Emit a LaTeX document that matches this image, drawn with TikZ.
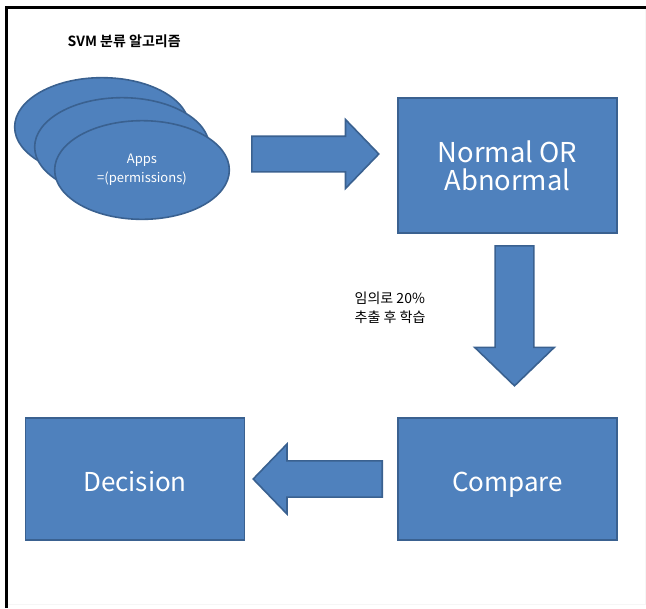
\documentclass[tikz,border=0pt]{standalone}
\usepackage{fontspec}
\setmainfont{Noto Sans CJK KR}[BoldFont={Noto Sans CJK KR Bold}]
\usetikzlibrary{shapes.geometric,shapes.arrows}
\definecolor{boxblue}{HTML}{4F81BD}
\definecolor{boxline}{HTML}{3A6190}

\begin{document}
\begin{tikzpicture}[
    x=0.75pt, y=-0.75pt,
    box/.style={draw=boxline,fill=boxblue,line width=1.2pt,text=white,
                minimum width=164pt,minimum height=91.5pt,inner sep=0pt,
                align=center,font=\fontsize{19.5}{19.5}\selectfont},
    app/.style={ellipse,draw=boxline,fill=boxblue,line width=1.2pt,
                minimum width=131pt,minimum height=74pt,inner sep=0pt},
    fatarrow/.style={single arrow,draw=boxline,fill=boxblue,line width=1.2pt,
                inner xsep=0pt,inner ysep=12.75pt,single arrow head extend=12.5pt,
                single arrow tip angle=92,anchor=tail},
  ]
  \useasboundingbox (0,0) rectangle (646,608);

  % --- frame ---
  \draw[gray!7,line width=0.75pt] (8,604) -- (645,604) -- (645,9);
  \draw[line width=2.25pt] (6.5,608) -- (6.5,7) -- (646,7);

  % --- title ---
  \node[anchor=west,font=\bfseries\fontsize{10.5}{12}\selectfont] (title) at (63,41) {SVM 분류 알고리즘};

  % --- apps (stacked) ---
  \node[app] (app3) at (102,127) {};
  \node[app] (app2) at (122,147) {};
  \node[app,text=white,align=center,font=\fontsize{9.75}{14}\selectfont] (app1) at (142,170) {Apps\\=(permissions)};

  % --- boxes ---
  \node[box,minimum height=101.25pt,font=\fontsize{20.5}{21}\selectfont] (label) at (507.5,165.5) {Normal OR\\Abnormal};
  \node[box,text height=19pt,text depth=0pt] (compare)  at (507.5,479) {Compare};
  \node[box,text height=19pt,text depth=0pt] (decision) at (135,479)   {Decision};

  % --- block arrows ---
  \node[fatarrow,minimum height=95.25pt,minimum width=49.5pt] (toLabel) at (251,154) {};
  \node[fatarrow,minimum height=105pt,minimum width=58.5pt,inner ysep=13.9pt,
        single arrow head extend=15.4pt,rotate=-90] (toCompare) at (514.5,245) {};
  \node[fatarrow,minimum height=96.75pt,minimum width=52.5pt,rotate=180] (toDecision) at (383,479) {};

  % --- note ---
  \node[anchor=west,align=left,font=\fontsize{10.5}{14}\selectfont] (note) at (350,308)
    {임의로 20\%\\추출 후 학습};

\end{tikzpicture}
\end{document}
